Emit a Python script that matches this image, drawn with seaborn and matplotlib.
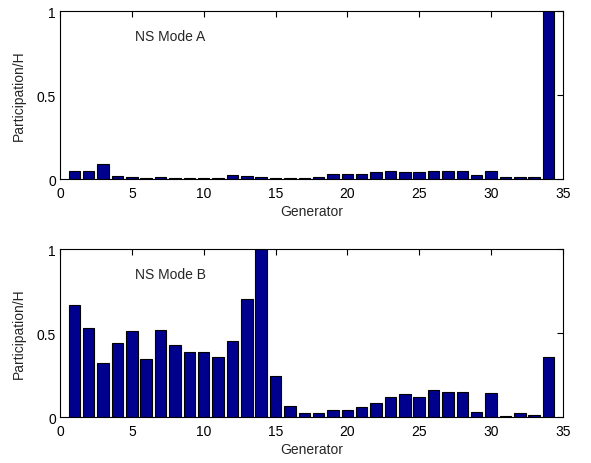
import numpy as np
import pandas as pd
import seaborn as sns
import matplotlib
matplotlib.use("Agg")
import matplotlib.pyplot as plt

generators = list(range(1, 35))
mode_a = [0.046, 0.046, 0.090, 0.018, 0.010, 0.004, 0.010, 0.004, 0.004, 0.004,
          0.004, 0.024, 0.018, 0.010, 0.006, 0.006, 0.008, 0.010, 0.032, 0.032,
          0.032, 0.040, 0.048, 0.040, 0.040, 0.048, 0.048, 0.048, 0.024, 0.048,
          0.010, 0.010, 0.010, 1.000]
mode_b = [0.667, 0.529, 0.321, 0.442, 0.513, 0.343, 0.521, 0.428, 0.390, 0.390,
          0.356, 0.455, 0.705, 1.000, 0.244, 0.063, 0.024, 0.024, 0.043, 0.043,
          0.057, 0.085, 0.121, 0.137, 0.121, 0.164, 0.149, 0.149, 0.030, 0.143,
          0.006, 0.024, 0.014, 0.358]
titles = ["NS Mode A", "NS Mode B"]
xticks = [0, 5, 10, 15, 20, 25, 30, 35]
yticks = [0, 0.5, 1]
yticklabels = ["0", "0.5", "1"]

sns.set_style("white")
plt.rcParams["font.family"] = ["Liberation Sans", "DejaVu Sans"]
plt.rcParams["font.size"] = 10

fig = plt.figure(figsize=(5.91, 4.64), dpi=100)
ax1 = fig.add_axes([0.1015, 0.612, 0.851, 0.362])
ax2 = fig.add_axes([0.1015, 0.099, 0.851, 0.362])

bar_color = "#00008F"
for ax, vals, title in zip([ax1, ax2], [mode_a, mode_b], titles):
    df = pd.DataFrame({"Generator": generators, "Value": vals})
    sns.barplot(data=df, x="Generator", y="Value", native_scale=True,
                color=bar_color, saturation=1, edgecolor="black",
                linewidth=0.8, width=0.8, ax=ax)
    ax.set_xlim(0, 35)
    ax.set_ylim(0, 1)
    ax.set_xticks(xticks)
    ax.set_xticklabels([str(t) for t in xticks])
    ax.set_yticks(yticks)
    ax.set_yticklabels(yticklabels)
    ax.tick_params(direction="in", length=4, width=0.8, top=True, right=True,
                   labelsize=10, colors="black")
    ax.tick_params(axis="x", pad=5)
    ax.tick_params(axis="y", pad=3)
    for s in ax.spines.values():
        s.set_visible(True)
        s.set_color("black")
        s.set_linewidth(0.8)
    ax.set_xlabel("Generator", fontsize=10, labelpad=3)
    ax.set_ylabel("Participation/H", fontsize=10, labelpad=8)
    ax.text(5.2, 0.85, title, fontsize=10, va="center", ha="left")

fig.savefig("out.png", dpi=100)
